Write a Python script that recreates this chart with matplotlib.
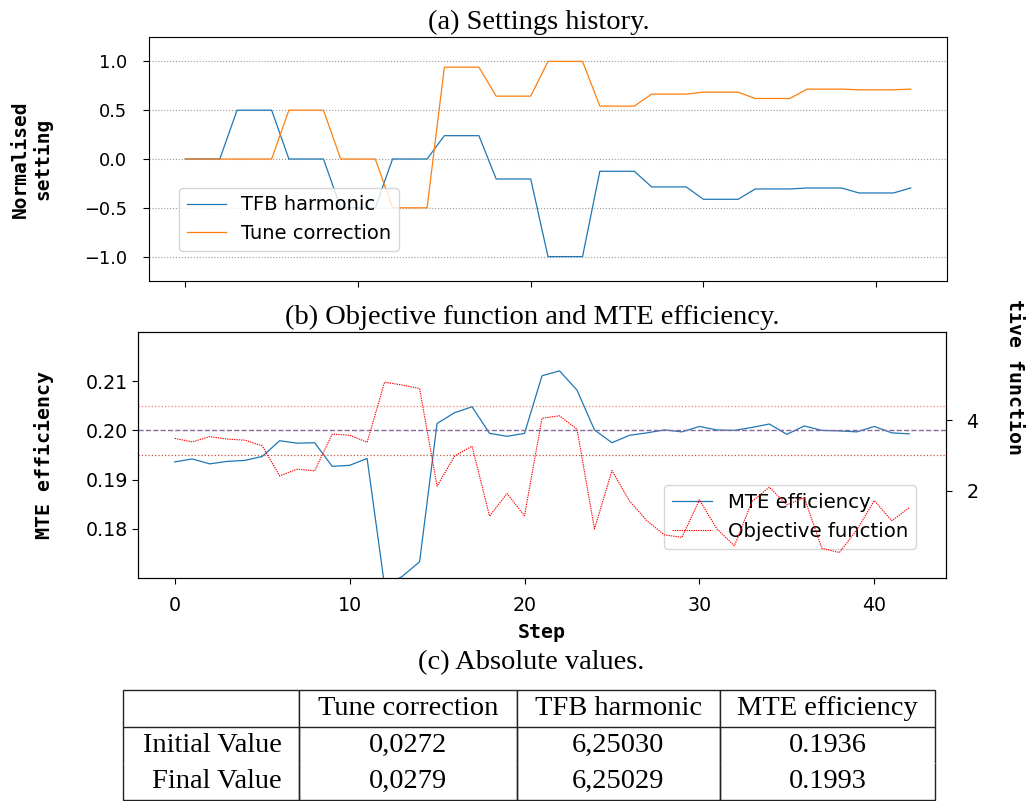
import matplotlib
matplotlib.use("Agg")
import matplotlib.pyplot as plt
from matplotlib.transforms import Bbox, TransformedBbox

# ---- data -------------------------------------------------------------
steps = list(range(43))

tfb_harmonic = [0, 0, 0, 0.5, 0.5, 0.5, 0, 0, 0, -0.5, -0.5, -0.5,
                0, 0, 0, 0.239, 0.239, 0.239, -0.205, -0.205, -0.205,
                -1.0, -1.0, -1.0, -0.126, -0.126, -0.126, -0.286, -0.286, -0.286,
                -0.413, -0.413, -0.413, -0.307, -0.307, -0.307,
                -0.297, -0.297, -0.297, -0.348, -0.348, -0.348, -0.297]

tune_correction = [0, 0, 0, 0, 0, 0, 0.5, 0.5, 0.5, 0, 0, 0,
                   -0.5, -0.5, -0.5, 0.941, 0.941, 0.941, 0.644, 0.644, 0.644,
                   1.0, 1.0, 1.0, 0.542, 0.542, 0.542, 0.665, 0.665, 0.665,
                   0.685, 0.685, 0.685, 0.620, 0.620, 0.620,
                   0.716, 0.716, 0.716, 0.709, 0.709, 0.709, 0.716]

mte_efficiency = [0.1936, 0.1942, 0.1932, 0.1937, 0.1939, 0.1947, 0.1979, 0.1974,
                  0.1975, 0.1927, 0.1929, 0.1943, 0.1684, 0.1703, 0.1733, 0.2014,
                  0.2036, 0.2048, 0.1994, 0.1988, 0.1994, 0.2111, 0.2121, 0.2082,
                  0.2001, 0.1975, 0.1990, 0.1995, 0.2001, 0.1997, 0.2008, 0.2001,
                  0.2000, 0.2006, 0.2013, 0.1992, 0.2009, 0.2000, 0.1999, 0.1997,
                  0.2008, 0.1995, 0.1993]

objective = [3.48, 3.38, 3.53, 3.46, 3.43, 3.27, 2.42, 2.61, 2.56, 3.60, 3.57,
             3.37, 5.07, 4.99, 4.89, 2.13, 2.98, 3.26, 1.28, 1.92, 1.29, 4.05,
             4.12, 3.74, 0.92, 2.57, 1.71, 1.15, 0.75, 0.68, 1.74, 0.92, 0.44,
             1.69, 2.10, 1.60, 1.80, 0.37, 0.25, 0.89, 1.72, 1.15, 1.52]

# reference levels on the efficiency axis
level_upper = 0.205
level_target = 0.200
level_lower = 0.195

table_columns = ["", "Tune correction", "TFB harmonic", "MTE efficiency"]
initial_row = ["Initial Value", "0,0272", "6,25030", f"{mte_efficiency[0]:.4f}"]
final_row = ["Final Value", "0,0279", "6,25029", f"{mte_efficiency[-1]:.4f}"]

# ---- figure -------------------------------------------------------------
W, H = 1028, 801
fig = plt.figure(figsize=(W / 100, H / 100), dpi=100)


def rect(l, t, r, b):
    return [l / W, 1 - b / H, (r - l) / W, (b - t) / H]


SERIF = "Liberation Serif"
MONO = "DejaVu Sans Mono"
CAP = 20.5

# (a) settings history
ax1 = fig.add_axes(rect(149, 37, 947, 281))
ax1.plot(steps, tfb_harmonic, color="C0", lw=0.9, label="TFB harmonic")
ax1.plot(steps, tune_correction, color="C1", lw=0.9, label="Tune correction")
ax1.set_ylim(-1.25, 1.25)
ax1.set_yticks([-1.0, -0.5, 0.0, 0.5, 1.0])
ax1.set_xticks([0, 10, 20, 30, 40])
ax1.tick_params(axis="x", labelbottom=False, length=4.6)
ax1.tick_params(axis="y", labelsize=12.8, pad=11.5, length=4.2)
ax1.yaxis.grid(True, linestyle=":", color="#9a9a9a", lw=0.8)
ax1.set_ylabel("Normalised\nsetting", family=MONO, weight="bold", fontsize=14,
               va="center")
ax1.yaxis.set_label_coords((31.5 - 149) / 798, 0.5)
ax1.legend(loc="lower left", bbox_to_anchor=((179 - 149) / 798, (281 - 251) / 244),
           borderaxespad=0, fontsize=14)
fig.text(539 / W, 1 - 29.3 / H, "(a) Settings history.", family=SERIF,
         fontsize=CAP, ha="center", va="baseline")

# (b) objective function and efficiency
ax2 = fig.add_axes(rect(138, 332, 946, 578))
ax3 = ax2.twinx()
l1, = ax2.plot(steps, mte_efficiency, color="C0", lw=0.9, label="MTE efficiency")
l2, = ax3.plot(steps, objective, color="red", lw=0.8, ls=(0, (1.2, 0.9)),
               label="Objective function")
ax2.axhline(level_upper, color="#f08a6a", lw=0.9, ls=":")
ax2.axhline(level_target, color="#8a6a9c", lw=1.0, ls="--")
ax2.axhline(level_lower, color="#c4553e", lw=0.9, ls=":")
ax2.set_ylim(0.17, 0.22)
ax2.set_yticks([0.18, 0.19, 0.20, 0.21])
ax3.set_ylim(-0.47, 6.49)
ax3.set_yticks([2, 4])
ax2.set_xticks([0, 10, 20, 30, 40])
ax2.tick_params(axis="both", labelsize=13.7, length=4.0)
ax2.tick_params(axis="x", pad=9.0)
ax2.tick_params(axis="y", pad=3.2)
ax3.tick_params(axis="y", labelsize=13.7, length=4.0, pad=10.8)
ax2.set_ylabel("MTE efficiency", family=MONO, weight="bold", fontsize=14.3,
               va="center")
ax2.yaxis.set_label_coords((44 - 138) / 808, 0.5)
ax2.set_xlabel("Step", family=MONO, weight="bold", fontsize=14.3, va="center")
ax2.xaxis.set_label_coords(0.5, (578 - 632) / 246)
ax2.legend(handles=[l1, l2], loc="lower right",
           bbox_to_anchor=((915.7 - 138) / 808, (578 - 549) / 246),
           borderaxespad=0, fontsize=14.25)

# right-hand axis title, trimmed at the panel boundary
obj_label = fig.text(1015 / W, 1 - 455 / H, "Objective function", family=MONO,
                     weight="bold", fontsize=14.3, rotation=270,
                     ha="center", va="bottom")
obj_label.set_clip_box(TransformedBbox(Bbox([[0, 0], [1, 1 - 301.5 / H]]),
                                       fig.transFigure))
obj_label.set_clip_on(True)

fig.text(532 / W, 1 - 324 / H, "(b) Objective function and MTE efficiency.",
         family=SERIF, fontsize=CAP, ha="center", va="baseline")

# (c) absolute values table
fig.text(531 / W, 1 - 669 / H, "(c) Absolute values.", family=SERIF,
         fontsize=CAP, ha="center", va="baseline")
axt = fig.add_axes(rect(123.3, 690, 935, 800))
axt.axis("off")
cells = [table_columns, initial_row, final_row]
widths = [176.0, 217.4, 203.3, 215.0]
total = sum(widths)
tbl = axt.table(cellText=cells, cellLoc="center", bbox=[0, 0, 1, 1],
                colWidths=[w / total for w in widths])
tbl.auto_set_font_size(False)
for (r, c), cell in tbl.get_celld().items():
    cell.set_linewidth(1.0)
    cell.set_edgecolor("#222222")
    txt = cell.get_text()
    txt.set_fontfamily(SERIF)
    txt.set_fontsize(CAP)
    if r == 0:
        cell.visible_edges = "closed"
    elif r == 1:
        cell.visible_edges = "LR"
    else:
        cell.visible_edges = "LRB"
    if c == 0 and r > 0:
        txt.set_horizontalalignment("right")
        cell._loc = "right"

fig.savefig("out.png", dpi=100)
